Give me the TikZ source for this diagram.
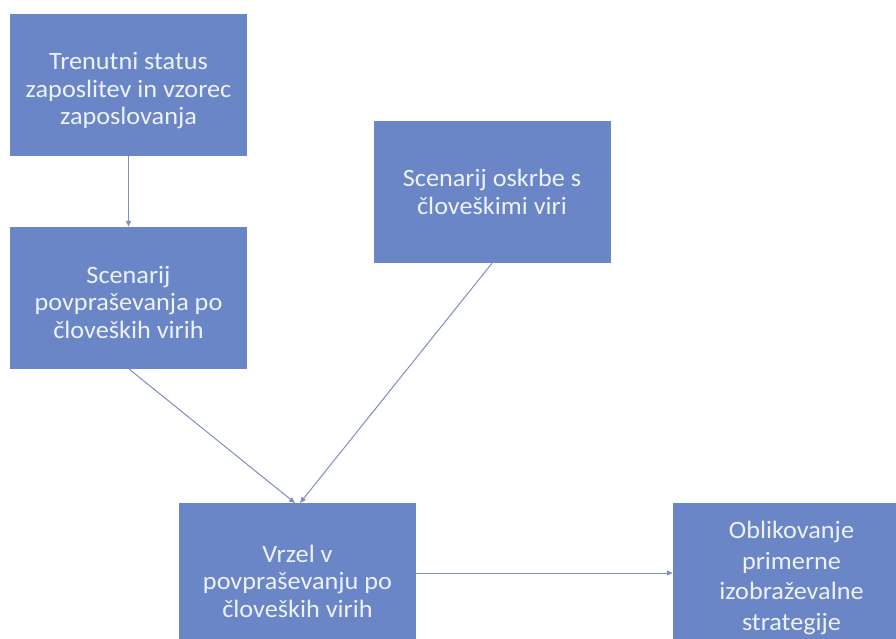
\documentclass[tikz,border=0pt]{standalone}
\usepackage{fontspec}
\setmainfont{Carlito}[FakeStretch=1.05]
\usetikzlibrary{arrows.meta}
\definecolor{boxfill}{HTML}{6A86C6}
\definecolor{boxtext}{HTML}{EEF2FA}
\definecolor{linec}{HTML}{7F8FC2}
\begin{document}
\begin{tikzpicture}[x=1pt,y=-1pt,
  box/.style={draw=none,fill=boxfill,minimum width=237pt,minimum height=142pt,inner sep=0pt},
  lbl/.style={text=boxtext,inner sep=0pt,align=center,font=\fontsize{25}{27.5}\selectfont},
  conn/.style={draw=linec,line width=1pt,-{Triangle[length=6pt,width=5pt]}}]
\clip (0,0) rectangle (896,639);
\fill[white] (0,0) rectangle (896,639);
\node[box] (a) at (128.5,85) {};
\node[lbl] (at) at ([yshift=-6pt]a.center) {Trenutni status\\zaposlitev in vzorec\\zaposlovanja};
\node[box] (b) at (128.5,298) {};
\node[lbl] (bt) at ([yshift=-4pt]b.center) {Scenarij\\povpraševanja po\\človeških virih};
\node[box] (c) at (492,192) {};
\node[lbl] (ct) at (c.center) {Scenarij oskrbe s\\človeškimi viri};
\node[box,minimum height=156pt] (d) at (297.5,581) {};
\node[lbl] (dt) at (d.center) {Vrzel v\\povpraševanju po\\človeških virih};
\node[box] (e) at (791.5,574) {};
\node[lbl,font=\fontsize{25}{30.5}\selectfont] (et) at ([yshift=-4pt]e.center) {Oblikovanje\\primerne\\izobraževalne\\strategije};
\coordinate (dtop) at (297.5,503);
\draw[conn] (a.south) -- (b.north);
\draw[conn] (129,369) -- ([xshift=-2.5pt]dtop);
\draw[conn] (c.south) -- ([xshift=2.5pt]dtop);
\draw[conn] (d.east |- 0,573) -- (e.west |- 0,573);
\end{tikzpicture}
\end{document}
